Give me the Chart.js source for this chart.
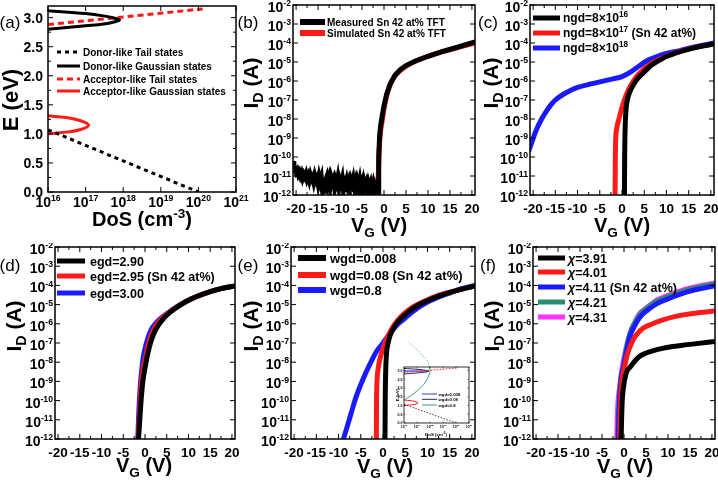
<!DOCTYPE html>
<html>
<head>
<meta charset="utf-8">
<script src="https://cdn.jsdelivr.net/npm/chart.js@4.4.1/dist/chart.umd.min.js"></script>
<style>
  html, body { margin: 0; padding: 0; background: #fff; overflow: hidden; width: 718px; height: 486px; }
  body { position: relative; }
  canvas { position: absolute; }
</style>
</head>
<body>
<canvas id="pa" width="250" height="243" style="left:0;top:0"></canvas>
<canvas id="pb" width="250" height="243" style="left:238px;top:0"></canvas>
<canvas id="pc" width="250" height="243" style="left:478px;top:0"></canvas>
<canvas id="pd" width="250" height="243" style="left:0;top:243px"></canvas>
<canvas id="pe" width="250" height="243" style="left:238px;top:243px"></canvas>
<canvas id="pf" width="250" height="243" style="left:478px;top:243px"></canvas>
<canvas id="pins" width="90" height="110" style="left:390px;top:335px"></canvas>
<script>
// ---- ticks ----
const vgTicks = [-20, -15, -10, -5, 0, 5, 10, 15, 20];
const vgMinor = [-17.5, -12.5, -7.5, -2.5, 2.5, 7.5, 12.5, 17.5];
const idDecades = [-12, -11, -10, -9, -8, -7, -6, -5, -4, -3, -2];
const dosDecades = [16, 17, 18, 19, 20, 21];
const eTicks = [0, 0.5, 1, 1.5, 2, 2.5, 3];
const eTickText = ['0.0', '0.5', '1.0', '1.5', '2.0', '2.5', '3.0'];

// ---- (a) density of states ----
const donorTailDos = [1e16, 1e20];
const donorTailE = [1.07, 0.0];
const donorGaussDos = [1e16, 1e17, 3e17, 6e17, 8e17, 6e17, 3e17, 1e17, 1e16];
const donorGaussE = [2.80, 2.86, 2.89, 2.93, 2.96, 2.99, 3.03, 3.07, 3.12];
const accTailDos = [1e16, 1.3e20];
const accTailE = [2.88, 3.15];
const accGaussDos = [1e16, 3e16, 7e16, 1.2e17, 7e16, 3e16, 1e16];
const accGaussE = [1.0, 1.03, 1.07, 1.15, 1.23, 1.28, 1.31];

// ---- (b) measured vs simulated ----
const bMeasVg = [-20.7, -20.5, -20.25, -20, -19.75, -19.5, -19.25, -19, -18.75, -18.5, -18.25, -18,
  -17.75, -17.5, -17.25, -17, -16.75, -16.5, -16.25, -16, -15.75, -15.5, -15.25, -15,
  -14.75, -14.5, -14.25, -14, -13.75, -13.5, -13.25, -13, -12.75, -12.5, -12.25, -12,
  -11.75, -11.5, -11.25, -11, -10.75, -10.5, -10.25, -10, -9.75, -9.5, -9.25, -9,
  -8.75, -8.5, -8.25, -8, -7.75, -7.5, -7.25, -7, -6.75, -6.5, -6.25, -6,
  -5.75, -5.5, -5.25, -5, -4.75, -4.5, -4.25, -4, -3.75, -3.5, -3.25, -3,
  -2.75, -2.5, -2.25, -2, -1.75, -1.5, -1.35,
  -1.2, -1.0, -0.8, -0.4, 0, 0.6, 1.4, 2.5, 3.7, 5, 7, 10, 13, 16.5, 20.7];
const bMeasId = [6e-11, 3.5e-11, 2.5e-11, 1.6e-11, 2e-11, 1.2e-11, 1.6e-11, 1e-11, 1.4e-11, 8e-12, 1.2e-11, 9e-12,
  1.3e-11, 7e-12, 1e-11, 6e-12, 1.1e-11, 7e-12, 9e-12, 5e-12, 1e-11, 6e-12, 8e-12, 4e-12,
  9e-12, 5e-12, 8e-12, 2e-12, 7e-12, 1.2e-12, 6e-12, 9e-12, 4e-12, 7e-12, 3e-12, 8e-12,
  5e-12, 7e-12, 2.5e-12, 6e-12, 4e-12, 8e-12, 3e-12, 6e-12, 4e-12, 7e-12, 2e-12, 5e-12,
  3.5e-12, 6e-12, 3e-12, 5e-12, 2.5e-12, 6e-12, 4e-12, 7e-12, 3e-12, 5e-12, 2e-12, 5e-12,
  3e-12, 6e-12, 2.5e-12, 4e-12, 1.5e-12, 5e-12, 3e-12, 4.5e-12, 2e-12, 4e-12, 2.5e-12, 4e-12,
  2e-12, 3.5e-12, 1.5e-12, 3e-12, 2e-12, 2.5e-12, 1.5e-12,
  1e-10, 1.2e-9, 4e-9, 1.5e-8, 5e-8, 2e-7, 7e-7, 2e-6, 4e-6, 6.5e-6, 1.1e-5, 2e-5, 3.4e-5, 5.8e-5, 1.15e-4];
const bSimVg = [-1.4, -1.3, -1.15, -1.0, -0.8, -0.5, -0.1, 0.4, 1.0, 1.8, 2.8, 4, 5.5, 7.5, 10, 13, 16.5, 20.7];
const bSimId = [1e-12, 1e-11, 1e-10, 6e-10, 2e-9, 6e-9, 2.5e-8, 1e-7, 3.5e-7, 1e-6, 2.2e-6, 4e-6, 7e-6, 1.2e-5, 2e-5, 3.3e-5, 5.5e-5, 1e-4];

// ---- (c) ngd ----
const cVg16 = [0.55, 0.6, 0.7, 0.9, 1.2, 1.8, 2.6, 3.6, 5, 6.5, 9, 12, 16, 20.7];
const cId16 = [1e-12, 1e-10, 3e-9, 3e-8, 1e-7, 2.8e-7, 6.5e-7, 1.4e-6, 3e-6, 6.5e-6, 1.5e-5, 2.9e-5, 5.4e-5, 8.8e-5];
const cVg17 = [-1.55, -1.5, -1.4, -1.2, -0.6, 0, 0.8, 1.8, 3, 4.5, 6.5, 9, 12, 16, 20.7];
const cId17 = [1e-12, 1e-10, 1e-9, 3e-9, 1.2e-8, 4e-8, 1.5e-7, 5e-7, 1.4e-6, 3.5e-6, 8e-6, 1.6e-5, 3e-5, 5.5e-5, 9e-5];
const cVg18 = [-21, -20.4, -19.5, -18, -17, -16, -15, -14, -12.5, -10, -7, -5, -2, 0, 2, 4, 6, 8, 10, 13, 16, 20.7];
const cId18 = [2e-10, 5e-10, 2e-9, 1.1e-8, 2.6e-8, 5.5e-8, 1e-7, 1.5e-7, 2.5e-7, 4.6e-7, 7e-7, 9e-7, 1.3e-6, 1.7e-6, 3e-6, 6.5e-6, 1.3e-5, 2e-5, 2.8e-5, 4e-5, 6e-5, 1e-4];

// ---- (d) egd ----
const dVg290 = [-1.5, -1.2, -0.9, -0.5, 0, 0.5, 1.2, 2, 3, 4, 5, 7, 9.5, 12, 15, 17.5, 20.7];
const dId290 = [1e-12, 1e-11, 1e-10, 1e-9, 5e-9, 2e-8, 9e-8, 3e-7, 8e-7, 1.6e-6, 2.8e-6, 6.5e-6, 1.45e-5, 2.7e-5, 4.8e-5, 6.8e-5, 9.5e-5];
const dVg295 = [-1.55, -1.35, -1.1, -0.8, -0.4, 0, 0.6, 1.4, 2.5, 3.7, 5, 7, 9.5, 12, 15, 17.5, 20.7];
const dId295 = [1e-12, 1e-11, 1e-10, 1e-9, 5e-9, 1.3e-8, 6e-8, 2.5e-7, 8e-7, 1.7e-6, 3.1e-6, 6.8e-6, 1.5e-5, 2.7e-5, 4.8e-5, 6.8e-5, 9.5e-5];
const dVg300 = [-1.65, -1.5, -1.3, -1.0, -0.7, -0.5, 0, 0.6, 1.4, 2.5, 3.7, 5, 7, 9.5, 12, 15, 17.5, 20.7];
const dId300 = [1e-12, 1e-11, 1e-10, 1e-9, 5e-9, 1.3e-8, 5e-8, 1.6e-7, 4.8e-7, 1.1e-6, 2e-6, 3.3e-6, 7e-6, 1.5e-5, 2.7e-5, 4.8e-5, 6.8e-5, 9.5e-5];

// ---- (e) wgd ----
const eVg0008 = [0.45, 0.5, 0.6, 0.8, 1.1, 1.6, 2.4, 3.5, 5, 7, 10, 13, 16, 20.7];
const eId0008 = [1e-12, 1e-10, 3e-9, 3e-8, 9e-8, 2.5e-7, 6e-7, 1.4e-6, 3e-6, 7e-6, 1.6e-5, 3e-5, 5e-5, 9.5e-5];
const eVg008 = [-1.5, -1.45, -1.35, -1.2, -0.75, 0, 0.75, 1.5, 2.3, 3.3, 4.5, 6.5, 9, 12, 16, 20.7];
const eId008 = [1e-12, 1e-10, 1e-9, 3e-9, 1.3e-8, 5e-8, 1.5e-7, 3.5e-7, 7.4e-7, 1.5e-6, 3e-6, 7e-6, 1.4e-5, 2.8e-5, 5e-5, 9.5e-5];
const eVg08 = [-8.9, -7.8, -7, -6, -4.5, -3, -1.5, 0, 1.5, 3, 4.5, 6.5, 9, 12, 15, 17.5, 20.7];
const eId08 = [1e-12, 7e-12, 3e-11, 1.7e-10, 1.3e-9, 7.4e-9, 3.5e-8, 1e-7, 3e-7, 8e-7, 1.6e-6, 4e-6, 1e-5, 2.2e-5, 4e-5, 6.5e-5, 1e-4];
// inset of (e)
const insNarrowDos = [1e16, 8e17];
const insNarrowE = [2.97, 2.97];
const insWideDos = [1e16, 6e16, 2.5e17, 6e17, 9e17, 1e18, 9.5e17];
const insWideE = [1.3, 1.7, 2.1, 2.5, 2.8, 2.97, 3.2];
const insWideOutDos = [9.5e17, 5.6e17, 2.3e17, 2.1e16];
const insWideOutE = [3.2, 3.6, 3.9, 4.65];

// ---- (f) chi ----
const fVg391 = [-0.65, -0.55, -0.4, -0.2, 0.5, 1.5, 2.4, 3.5, 5, 7.5, 10, 13, 16, 20.7];
const fId391 = [1e-12, 1e-11, 1e-10, 3.7e-10, 2.7e-9, 6e-9, 1.1e-8, 2e-8, 3e-8, 4.5e-8, 6e-8, 7.5e-8, 9e-8, 1.2e-7];
const fVg401 = [-1.0, -0.9, -0.75, -0.5, -0.15, 0.5, 1.2, 2.1, 3, 4.4, 6, 8.5, 12, 16, 20.7];
const fId401 = [1e-12, 1e-11, 1e-10, 1e-9, 2.6e-9, 1.5e-8, 5e-8, 1.5e-7, 3e-7, 6e-7, 9e-7, 1.5e-6, 2.5e-6, 3.5e-6, 4.6e-6];
const fVg411 = [-1.3, -1.2, -1.0, -0.6, -0.15, 0.5, 1.3, 2.3, 3.6, 5, 7.4, 10, 13.5, 17, 20.7];
const fId411 = [1e-12, 1e-11, 1e-10, 1.5e-9, 5e-9, 3e-8, 2e-7, 7e-7, 2.2e-6, 4.5e-6, 1.1e-5, 2e-5, 4e-5, 6.5e-5, 9.5e-5];
const fVg421 = [-1.4, -1.3, -1.1, -0.8, -0.2, 0.4, 1.3, 2.3, 3.6, 5, 7.4, 10, 13.5, 17, 20.7];
const fId421 = [1e-12, 1e-11, 1e-10, 1e-9, 5e-9, 3.5e-8, 3e-7, 1e-6, 3e-6, 6e-6, 1.5e-5, 2.6e-5, 5e-5, 8e-5, 1.2e-4];
const fVg431 = [-1.65, -1.55, -1.35, -1.0, -0.5, 0.2, 1.4, 2.3, 3.6, 5, 7.4, 10, 13.5, 17, 20.7];
const fId431 = [1e-12, 1e-11, 1e-10, 5e-10, 4e-9, 2.9e-8, 3.2e-7, 1e-6, 3.5e-6, 6.5e-6, 1.7e-5, 3e-5, 5.8e-5, 9e-5, 1.35e-4];

const FAM = "'Liberation Sans', Arial, Helvetica, sans-serif";
const RED = '#ff1a1a', BLUE = '#1a1aff', BLACK = '#000000', TEAL = '#2e8b73', PINK = '#ff33ff';

const pts = (xs, ys) => xs.map((x, i) => ({ x: x, y: ys[i] }));

function series(xs, ys, color, width, extra) {
  return Object.assign({
    data: pts(xs, ys), borderColor: color, backgroundColor: color, borderWidth: width,
    showLine: true, pointRadius: 0, fill: false, cubicInterpolationMode: 'monotone', clip: 0
  }, extra || {});
}

// text with ^{sup}, _{sub} and ~{italic}
function richParts(str) {
  const parts = [];
  const re = /([\^_~])\{([^}]*)\}/g;
  let last = 0, m;
  while ((m = re.exec(str))) {
    if (m.index > last) parts.push({ t: str.slice(last, m.index), k: '' });
    parts.push({ t: m[2], k: m[1] });
    last = re.lastIndex;
  }
  if (last < str.length) parts.push({ t: str.slice(last), k: '' });
  return parts;
}

function drawRich(ctx, str, x, y, size, align, weight, supScale) {
  const parts = richParts(str);
  const w = weight || 'bold';
  const ss = supScale || 0.68;
  const font = k => (k === '~' ? 'italic ' : '') + w + ' ' +
    ((k === '^' || k === '_') ? size * ss : size) + 'px ' + FAM;
  let total = 0;
  parts.forEach(p => { ctx.font = font(p.k); p.w = ctx.measureText(p.t).width; total += p.w; });
  let cx = align === 'center' ? x - total / 2 : align === 'right' ? x - total : x;
  ctx.textAlign = 'left';
  ctx.textBaseline = 'alphabetic';
  parts.forEach(p => {
    ctx.font = font(p.k);
    const dy = p.k === '^' ? -size * 0.42 : p.k === '_' ? size * 0.25 : 0;
    ctx.fillText(p.t, cx, y + dy);
    cx += p.w;
  });
}

// frame, inward ticks, tick labels, legend and titles
const sciPlugin = {
  id: 'sci',
  beforeDatasetsDraw(chart, args, o) {
    if (!o || !o.on || !o.bg) return;
    const a = chart.chartArea, ctx = chart.ctx;
    ctx.save();
    ctx.fillStyle = o.bg;
    ctx.fillRect(a.left, a.top, a.right - a.left, a.bottom - a.top);
    ctx.restore();
  },
  afterDatasetsDraw(chart, args, o) {
    if (!o || !o.on) return;
    const ctx = chart.ctx, a = chart.chartArea, xs = chart.scales.x, ys = chart.scales.y;
    const seg = (x1, y1, x2, y2) => { ctx.beginPath(); ctx.moveTo(x1, y1); ctx.lineTo(x2, y2); ctx.stroke(); };
    ctx.save();
    ctx.strokeStyle = '#000';
    ctx.fillStyle = '#000';
    ctx.lineWidth = o.frameW;
    ctx.strokeRect(a.left, a.top, a.right - a.left, a.bottom - a.top);
    ctx.lineWidth = o.tickW;
    const xt = (list, len) => (list || []).forEach(v => {
      const p = xs.getPixelForValue(v);
      seg(p, a.bottom, p, a.bottom - len); seg(p, a.top, p, a.top + len);
    });
    const yt = (list, len) => (list || []).forEach(v => {
      const p = ys.getPixelForValue(v);
      seg(a.left, p, a.left + len, p); seg(a.right, p, a.right - len, p);
    });
    xt(o.xMajor, o.majLen); xt(o.xMinor, o.minLen);
    yt(o.yMajor, o.majLen); yt(o.yMinor, o.minLen);
    o.xLabels.forEach((t, i) => drawRich(ctx, t, xs.getPixelForValue(o.xMajor[i]), a.bottom + o.xLabOff,
      o.xTickSize || o.tickSize, 'center', 'bold', o.supScale));
    o.yLabels.forEach((t, i) => drawRich(ctx, t, a.left - o.yLabOff,
      ys.getPixelForValue(o.yMajor[i]) + o.tickSize * 0.36 + (o.yLabDy || 0), o.tickSize, 'right', 'bold', o.supScale));
    if (o.legend) {
      const L = o.legend;
      L.items.forEach((it, i) => {
        const ds = chart.data.datasets[it.ds];
        const y = L.y[i];
        ctx.save();
        ctx.strokeStyle = ds.borderColor;
        ctx.lineWidth = L.lw || ds.borderWidth;
        ctx.setLineDash(ds.borderDash || []);
        seg(L.x0, y, L.x1, y);
        ctx.restore();
        drawRich(ctx, it.text, L.tx, y + L.size * 0.36, L.size, 'left');
      });
    }
    (o.titles || []).forEach(t => {
      ctx.save();
      ctx.translate(t.x, t.y);
      if (t.rot) ctx.rotate(-Math.PI / 2);
      drawRich(ctx, t.text, 0, t.size * 0.36, t.size, 'center', t.weight);
      ctx.restore();
    });
    ctx.restore();
  }
};
Chart.register(sciPlugin);

function makeChart(id, pad, xScale, yScale, datasets, sci) {
  return new Chart(document.getElementById(id), {
    type: 'scatter',
    data: { datasets: datasets },
    options: {
      responsive: false, animation: false, events: [],
      layout: { padding: pad },
      scales: {
        x: Object.assign({ display: false }, xScale),
        y: Object.assign({ display: false }, yScale)
      },
      plugins: { legend: { display: false }, tooltip: { enabled: false }, sci: Object.assign({ on: true }, sci) }
    }
  });
}

const ivX = { type: 'linear', min: -20.7, max: 20.7 };
const ivY = { type: 'logarithmic', min: 1e-12, max: 1e-2 };
const ivAxes = {
  frameW: 1.5, tickW: 1, majLen: 5, minLen: 3, tickSize: 14, xTickSize: 13.5, supScale: 0.62,
  xMajor: vgTicks, xMinor: vgMinor, xLabels: vgTicks.map(v => String(v)), xLabOff: 18,
  yMajor: idDecades.map(e => Math.pow(10, e)), yLabels: idDecades.map(e => '10^{' + e + '}'),
  yLabOff: 2, yLabDy: 2
};
const ivTitles = (label, ix, iy, vx, vy) => [
  { text: label, x: 10, y: 22, size: 17, weight: 'normal' },
  { text: 'I_{D} (A)', x: ix, y: iy, size: 21, rot: true },
  { text: 'V_{G} (V)', x: vx, y: vy, size: 20 }
];

// (a)
makeChart('pa', { left: 48, top: 6, right: 14, bottom: 51 },
  { type: 'logarithmic', min: 1e16, max: 1e21 },
  { type: 'linear', min: 0, max: 3.2 },
  [
    series(donorTailDos, donorTailE, BLACK, 3, { borderDash: [4, 4], cubicInterpolationMode: 'default' }),
    series(donorGaussDos, donorGaussE, BLACK, 3, { cubicInterpolationMode: 'default', tension: 0.4 }),
    series(accTailDos, accTailE, RED, 3, { borderDash: [6, 4], cubicInterpolationMode: 'default' }),
    series(accGaussDos, accGaussE, RED, 3, { cubicInterpolationMode: 'default', tension: 0.4 })
  ],
  {
    frameW: 1.5, tickW: 1, majLen: 5, minLen: 3, tickSize: 14, supScale: 0.62,
    xMajor: dosDecades.map(d => Math.pow(10, d)), xLabels: dosDecades.map(d => '10^{' + d + '}'), xLabOff: 15,
    yMajor: eTicks, yLabels: eTickText, yLabOff: 5,
    yMinor: [0.25, 0.75, 1.25, 1.75, 2.25, 2.75],
    legend: {
      x0: 57, x1: 80, tx: 83, size: 10, lw: 3, y: [52, 66, 79, 91],
      items: [
        { ds: 0, text: 'Donor-like Tail states' },
        { ds: 1, text: 'Donor-like Gaussian states' },
        { ds: 2, text: 'Acceptor-like Tail states' },
        { ds: 3, text: 'Acceptor-like Gaussian states' }
      ]
    },
    titles: [
      { text: '(a)', x: 10, y: 22, size: 17, weight: 'normal' },
      { text: 'E (eV)', x: 10, y: 100, size: 22, rot: true },
      { text: 'DoS (cm^{-3})', x: 142, y: 219, size: 20 }
    ]
  });

// (b)
makeChart('pb', { left: 55, top: 5, right: 13, bottom: 48 }, ivX, ivY,
  [
    series(bMeasVg, bMeasId, BLACK, 5, { cubicInterpolationMode: 'default' }),
    series(bSimVg, bSimId, RED, 5)
  ],
  Object.assign({}, ivAxes, {
    legend: {
      x0: 62, x1: 87, tx: 89, size: 10, lw: 6, y: [22, 33],
      items: [
        { ds: 0, text: 'Measured Sn 42 at% TFT' },
        { ds: 1, text: 'Simulated Sn 42 at% TFT' }
      ]
    },
    titles: ivTitles('(b)', 12, 83, 141, 225)
  }));

// (c)
makeChart('pc', { left: 52, top: 5, right: 14, bottom: 48 }, ivX, ivY,
  [
    series(cVg16, cId16, BLACK, 5),
    series(cVg17, cId17, RED, 5),
    series(cVg18, cId18, BLUE, 5)
  ],
  Object.assign({}, ivAxes, {
    legend: {
      x0: 55, x1: 82, tx: 85, size: 12, lw: 5, y: [18, 33, 48],
      items: [
        { ds: 0, text: 'ngd=8×10^{16}' },
        { ds: 1, text: 'ngd=8×10^{17} (Sn 42 at%)' },
        { ds: 2, text: 'ngd=8×10^{18}' }
      ]
    },
    titles: ivTitles('(c)', 12, 83, 144, 225)
  }));

// (d)
makeChart('pd', { left: 55, top: 4, right: 15, bottom: 47 }, ivX, ivY,
  [
    series(dVg290, dId290, BLACK, 5),
    series(dVg295, dId295, RED, 5),
    series(dVg300, dId300, BLUE, 5)
  ],
  Object.assign({}, ivAxes, {
    legend: {
      x0: 57, x1: 85, tx: 90, size: 12.5, lw: 5, y: [18, 33, 50],
      items: [
        { ds: 0, text: 'egd=2.90' },
        { ds: 1, text: 'egd=2.95 (Sn 42 at%)' },
        { ds: 2, text: 'egd=3.00' }
      ]
    },
    titles: ivTitles('(d)', 13, 83, 144, 222)
  }));

// (e)
makeChart('pe', { left: 53, top: 4, right: 13, bottom: 47 }, ivX, ivY,
  [
    series(eVg0008, eId0008, BLACK, 5),
    series(eVg008, eId008, RED, 5),
    series(eVg08, eId08, BLUE, 5)
  ],
  Object.assign({}, ivAxes, {
    legend: {
      x0: 60, x1: 88, tx: 92, size: 13, lw: 6, y: [15, 32, 47],
      items: [
        { ds: 0, text: 'wgd=0.008' },
        { ds: 1, text: 'wgd=0.08 (Sn 42 at%)' },
        { ds: 2, text: 'wgd=0.8' }
      ]
    },
    titles: ivTitles('(e)', 12, 83, 147, 223)
  }));

// (e) inset
makeChart('pins', { left: 14, top: 32, right: 11, bottom: 22 },
  { type: 'logarithmic', min: 1e16, max: 1e21 },
  { type: 'linear', min: 0, max: 3.2 },
  [
    series(donorTailDos, donorTailE, '#444', 1, { borderDash: [1.5, 1.5], cubicInterpolationMode: 'default' }),
    series(accTailDos, accTailE, RED, 1, { borderDash: [1.5, 1.5], cubicInterpolationMode: 'default' }),
    series(accGaussDos, accGaussE, RED, 1, { cubicInterpolationMode: 'default', tension: 0.4 }),
    series(insWideDos, insWideE, '#3a9f80', 1, { cubicInterpolationMode: 'default', tension: 0.4 }),
    series(insWideOutDos, insWideOutE, 'rgba(58,159,128,0.7)', 1, { borderDash: [1.5, 1.5], cubicInterpolationMode: 'default', tension: 0.4, clip: false }),
    series(donorGaussDos, donorGaussE, '#2a2a55', 1, { cubicInterpolationMode: 'default', tension: 0.4 }),
    series(insNarrowDos, insNarrowE, '#3333ff', 1.2, { cubicInterpolationMode: 'default' })
  ],
  {
    bg: '#ffffff', frameW: 0.8, tickW: 0.5, majLen: 1.5, minLen: 1, tickSize: 3.6,
    xMajor: dosDecades.map(d => Math.pow(10, d)), xLabels: dosDecades.map(d => '10^{' + d + '}'), xLabOff: 5,
    yMajor: eTicks, yLabels: eTickText, yLabOff: 1.5,
    legend: {
      x0: 32, x1: 47, tx: 48.5, size: 4.3, lw: 1, y: [59, 64.3, 70],
      items: [
        { ds: 6, text: 'wgd=0.008' },
        { ds: 5, text: 'wgd=0.08' },
        { ds: 3, text: 'wgd=0.8' }
      ]
    },
    titles: [
      { text: 'E (eV)', x: 7, y: 60, size: 4.4, rot: true },
      { text: 'DoS (cm^{-3})', x: 46, y: 99, size: 4.4 }
    ]
  });

// (f)
makeChart('pf', { left: 55, top: 4, right: 13, bottom: 47 }, ivX, ivY,
  [
    series(fVg391, fId391, BLACK, 5),
    series(fVg401, fId401, RED, 5),
    series(fVg411, fId411, BLUE, 5),
    series(fVg421, fId421, TEAL, 5),
    series(fVg431, fId431, PINK, 5)
  ],
  Object.assign({}, ivAxes, {
    legend: {
      x0: 60, x1: 87, tx: 90, size: 12.5, lw: 5, y: [15, 29, 44, 59, 74],
      items: [
        { ds: 0, text: '~{χ}=3.91' },
        { ds: 1, text: '~{χ}=4.01' },
        { ds: 2, text: '~{χ}=4.11 (Sn 42 at%)' },
        { ds: 3, text: '~{χ}=4.21' },
        { ds: 4, text: '~{χ}=4.31' }
      ]
    },
    titles: ivTitles('(f)', 13, 83, 147, 223)
  }));
</script>
</body>
</html>
